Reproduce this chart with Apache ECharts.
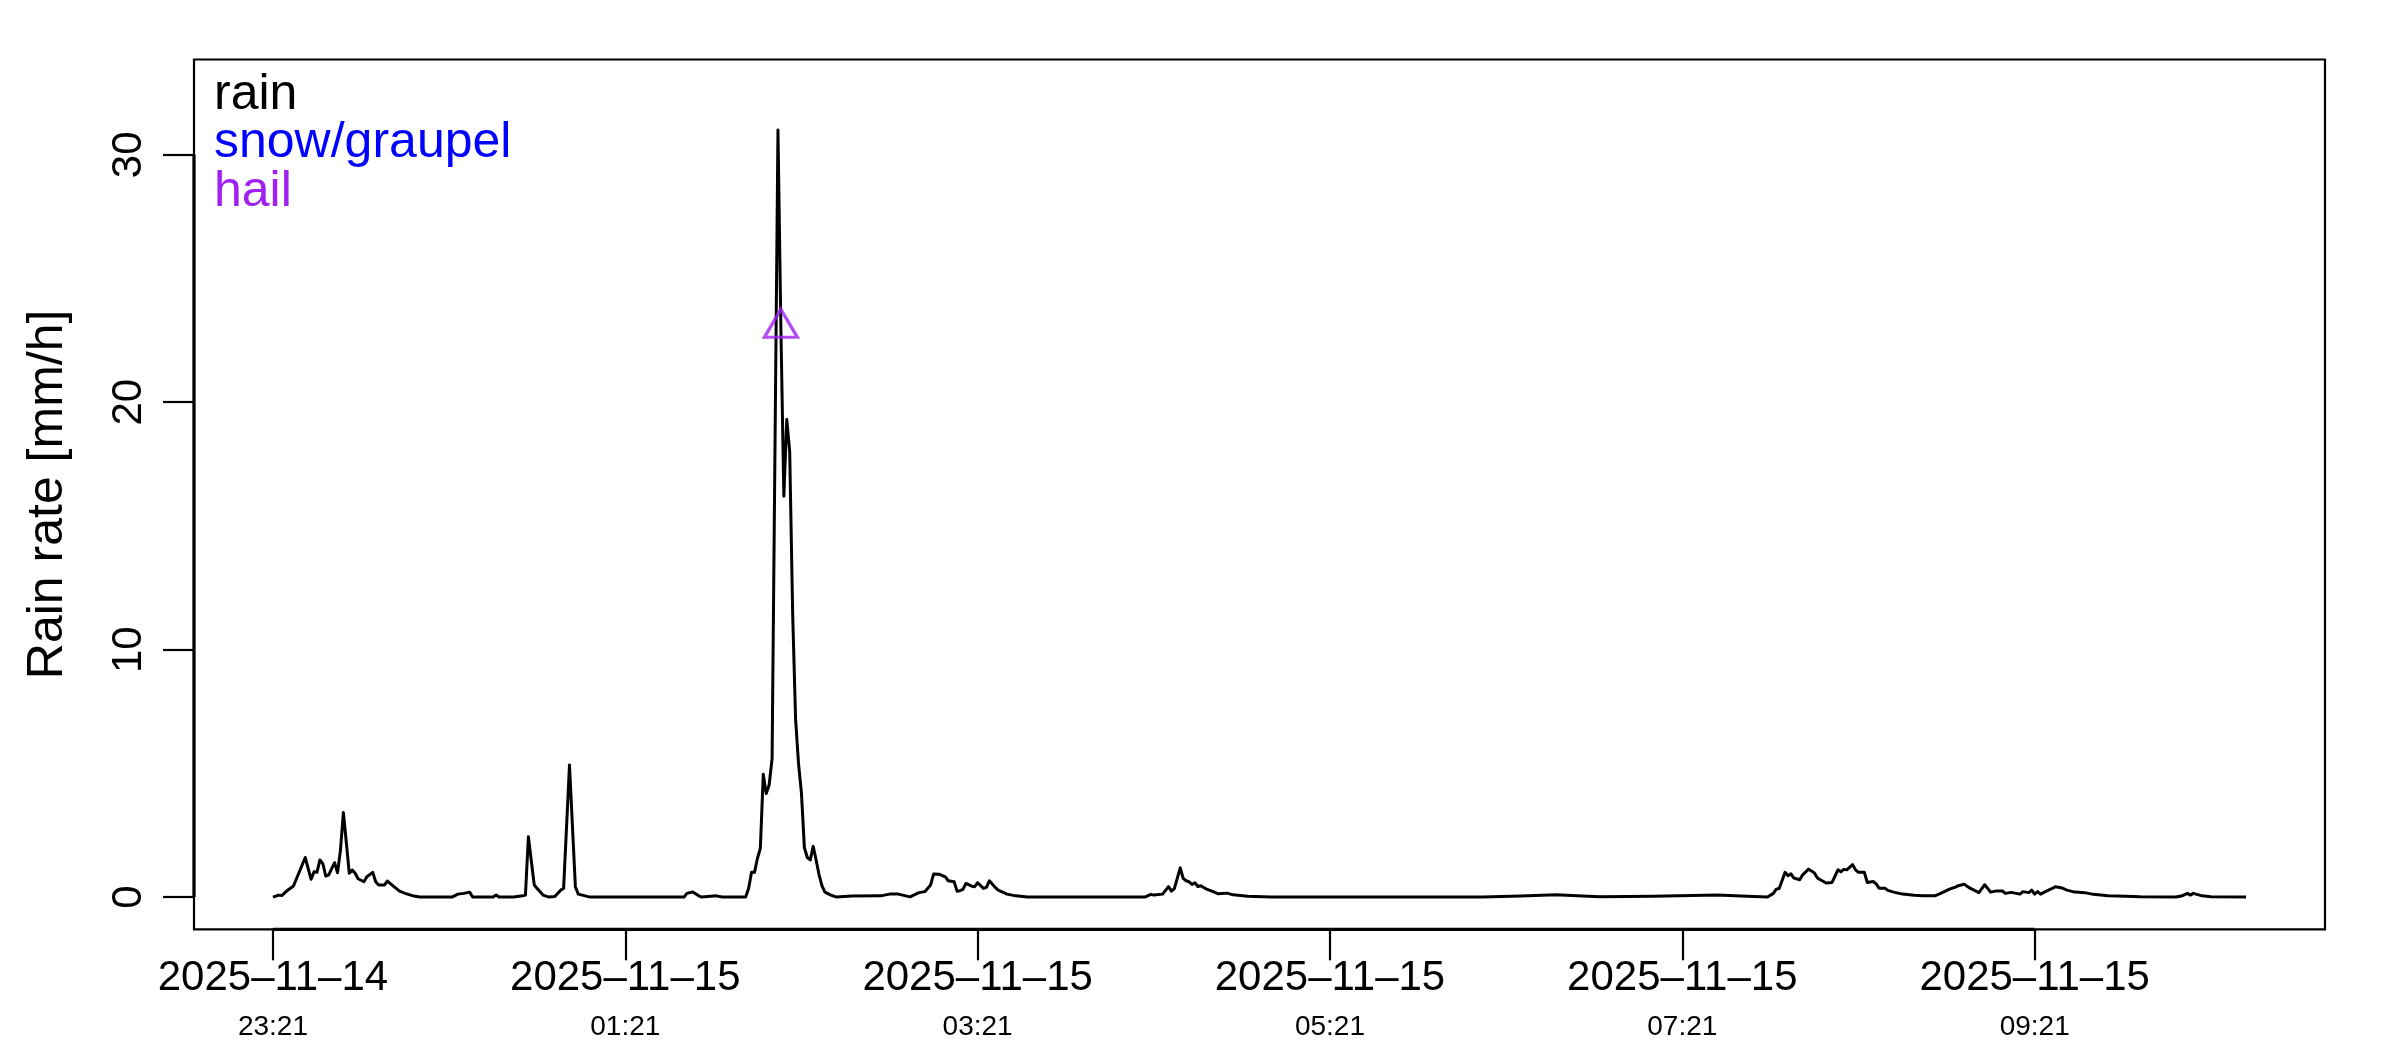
<!DOCTYPE html>
<html>
<head>
<meta charset="utf-8">
<script src="https://cdn.jsdelivr.net/npm/echarts@6/dist/echarts.min.js"></script>
<style>
  html, body { margin: 0; padding: 0; background: #fff; }
  #chart { width: 2400px; height: 1050px; }
</style>
</head>
<body>
<div id="chart"></div>
<script>
// ---- data (minutes after 2025-11-14 23:21) ----
const rainMinutes = [0,2,3,5,7,11,13,14,15,16,17,18,19,21,22,23,24,25,26,27,28,29,31,32,34,35,36,38,39,41,43,45,48,50,
  61,63,65,67,68,75,76,77,82,85,86,87,89,90,92,94,96,98,99,101,103,104,108,
  140,141,143,145,146,151,153,161,162,163,164,165,166,167,168,169,170,172,173,174,175,176,177,178,179,180,181,182,183,184,185,186,187,188,190,192,
  197,207,210,213,217,220,222,224,225,227,229,230,232,233,234,235,236,238,239,240,242,243,244,246,247,250,253,257,
  297,299,300,303,305,306,307,309,310,311,312,313,314,315,316,318,320,322,325,327,332,340,
  412,425,437,446,452,470,492,500,509,511,512,513,515,516,517,518,520,521,523,525,526,527,529,531,533,534,535,536,538,539,540,542,543,545,546,547,549,550,552,555,559,562,566,
  568,571,573,574,576,578,581,583,585,587,589,590,592,595,596,598,599,600,601,602,604,606,607,609,611,613,617,620,625,631,636,648,650,652,653,654,657,660,672];
const rainValues = [0.0,0.08,0.06,0.28,0.45,1.6,0.72,1.02,1.0,1.5,1.35,0.85,0.9,1.39,0.98,1.9,3.42,2.2,0.96,1.09,0.96,0.74,0.62,0.82,1.0,0.62,0.49,0.49,0.65,0.44,0.25,0.15,0.04,0.0,
  0.0,0.12,0.15,0.2,0.0,0.0,0.08,0.0,0.0,0.05,0.08,2.44,0.49,0.35,0.08,0.0,0.02,0.28,0.35,5.34,0.42,0.12,0.0,
  0.0,0.15,0.21,0.05,0.0,0.05,0.0,0.0,0.35,1.0,1.0,1.56,1.97,4.96,4.19,4.53,5.6,31.0,23.0,16.2,19.3,18.0,11.5,7.2,5.4,4.2,2.0,1.6,1.5,2.05,1.5,0.9,0.45,0.2,0.08,0.0,
  0.04,0.05,0.12,0.12,0.01,0.18,0.22,0.49,0.93,0.92,0.82,0.66,0.62,0.24,0.26,0.31,0.55,0.44,0.42,0.58,0.35,0.39,0.66,0.39,0.28,0.12,0.05,0.0,
  0.0,0.11,0.08,0.12,0.42,0.24,0.34,1.18,0.76,0.66,0.62,0.51,0.58,0.43,0.46,0.32,0.23,0.13,0.16,0.09,0.03,0.0,
  0.0,0.04,0.09,0.04,0.01,0.03,0.08,0.04,0.0,0.15,0.32,0.35,1.0,0.86,0.94,0.77,0.7,0.9,1.13,0.97,0.77,0.7,0.57,0.59,1.1,1.02,1.12,1.1,1.31,1.1,1.0,1.0,0.59,0.63,0.54,0.36,0.36,0.27,0.2,0.12,0.07,0.05,0.05,
  0.15,0.32,0.4,0.46,0.52,0.36,0.18,0.5,0.2,0.25,0.25,0.15,0.19,0.12,0.22,0.18,0.28,0.12,0.22,0.12,0.24,0.35,0.42,0.38,0.28,0.22,0.18,0.11,0.05,0.03,0.01,0.0,0.04,0.15,0.08,0.15,0.05,0.01,0.0];

const snowMinutes = [];
const snowValues = [];
const hailMinutes = [173];
const hailValues = [23.0];

const xTickMinutes = [0, 120, 240, 360, 480, 600];
const xTickDates = ['2025–11–14', '2025–11–15', '2025–11–15', '2025–11–15', '2025–11–15', '2025–11–15'];
const xTickTimes = ['23:21', '01:21', '03:21', '05:21', '07:21', '09:21'];
const yTicks = [0, 10, 20, 30];

const legendNames = ['rain', 'snow/graupel', 'hail'];
const legendColors = ['#000000', '#0000FF', '#A020F0'];

// ---- axis ranges (R style 4% padding) ----
const xDataMin = Math.min(...rainMinutes), xDataMax = Math.max(...rainMinutes);
const xPad = 0.04 * (xDataMax - xDataMin);
const xMin = xDataMin - xPad, xMax = xDataMax + xPad;
const yTop = Math.max(...rainValues) * 1.05;
const yMin = -0.04 * yTop, yMax = 1.04 * yTop;

const FONT = '"Liberation Sans", Arial, Helvetica, sans-serif';

const zip = (a, b) => a.map((v, i) => [v, b[i]]);

const chart = echarts.init(document.getElementById('chart'), null, { renderer: 'canvas' });
chart.setOption({
  animation: false,
  backgroundColor: '#ffffff',
  textStyle: { fontFamily: FONT },
  title: {
    left: 214, top: 71, padding: 0,
    text: legendNames.map((n, i) => '{s' + i + '|' + n + '}').join('\n'),
    textStyle: {
      fontWeight: 'normal',
      rich: Object.fromEntries(legendNames.map((n, i) => ['s' + i, {
        color: legendColors[i], fontSize: 50, lineHeight: 48.3, fontFamily: FONT, fontWeight: 'normal'
      }]))
    }
  },
  grid: {
    left: 194, right: 75, top: 59.5, bottom: 120.7,
    show: true, borderColor: '#000', borderWidth: 2.2, backgroundColor: 'transparent',
    containLabel: false, outerBoundsMode: 'none'
  },
  xAxis: {
    type: 'value', min: xMin, max: xMax,
    axisLine: { show: false, onZero: false },
    splitLine: { show: false },
    axisTick: { show: true, inside: false, length: 31, customValues: xTickMinutes,
      lineStyle: { color: '#000', width: 2.2 } },
    axisLabel: {
      show: true, customValues: xTickMinutes, margin: 26, color: '#000',
      formatter: (v) => {
        const i = xTickMinutes.indexOf(Math.round(v));
        return '{d|' + xTickDates[i] + '}\n{t|' + xTickTimes[i] + '}';
      },
      rich: {
        d: { fontSize: 42, lineHeight: 46, color: '#000', fontFamily: FONT },
        t: { fontSize: 28, lineHeight: 51, color: '#000', fontFamily: FONT }
      }
    }
  },
  yAxis: {
    type: 'value', min: yMin, max: yMax,
    name: 'Rain rate [mm/h]', nameLocation: 'middle', nameRotate: 90, nameGap: 120.5,
    nameTextStyle: { fontSize: 50, color: '#000', fontFamily: FONT },
    axisLine: { show: false, onZero: false },
    splitLine: { show: false },
    axisTick: { show: true, inside: false, length: 31, customValues: yTicks,
      lineStyle: { color: '#000', width: 2.2 } },
    axisLabel: { show: true, customValues: yTicks, rotate: 90, margin: 43.5,
      fontSize: 42, color: '#000', fontFamily: FONT }
  },
  series: [
    {
      name: 'xAxisSegment', type: 'line', silent: true, clip: false, symbol: 'none',
      data: [[xTickMinutes[0], yMin], [xTickMinutes[xTickMinutes.length - 1], yMin]],
      lineStyle: { color: '#000', width: 3.2 }, z: 1
    },
    {
      name: 'yAxisSegment', type: 'line', silent: true, clip: false, symbol: 'none',
      data: [[xMin, yTicks[0]], [xMin, yTicks[yTicks.length - 1]]],
      lineStyle: { color: '#000', width: 3.2 }, z: 1
    },
    {
      name: 'rain', type: 'line', symbol: 'none', showSymbol: false,
      data: zip(rainMinutes, rainValues),
      lineStyle: { color: '#000', width: 3, join: 'round' }, z: 3
    },
    {
      name: 'snow/graupel', type: 'scatter', data: zip(snowMinutes, snowValues),
      symbol: 'triangle', itemStyle: { color: '#0000FF' }
    },
    {
      name: 'hail', type: 'scatter', data: zip(hailMinutes, hailValues),
      symbol: 'triangle', symbolSize: [33, 28], symbolOffset: [0, -4.7],
      itemStyle: { color: 'rgba(0,0,0,0)', borderColor: '#A020F0', borderWidth: 3.2 }, z: 5
    }
  ]
});
</script>
</body>
</html>
